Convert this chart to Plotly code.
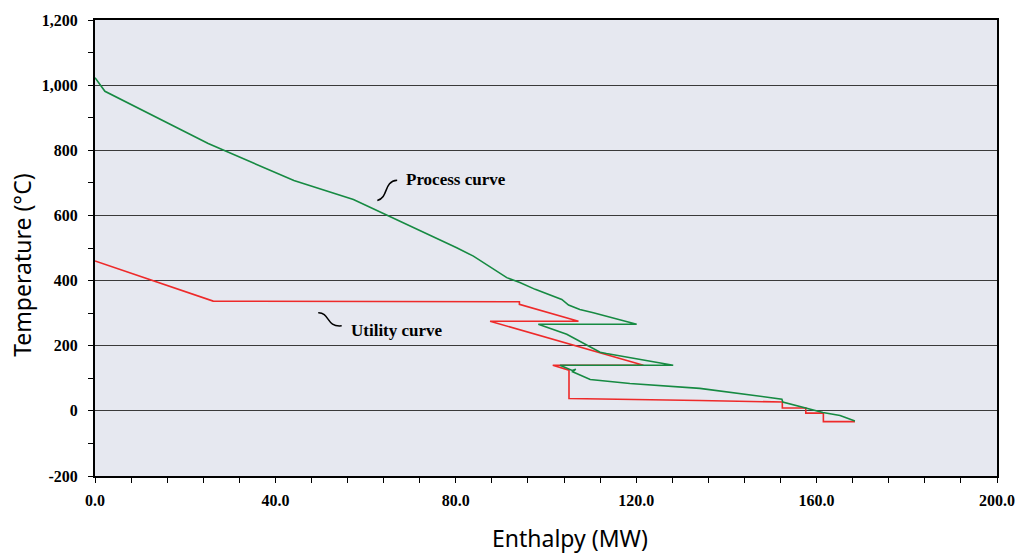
import plotly.graph_objects as go

# ---- data ----
process_h = [0.0, 2.2, 25.1, 44.1, 57.3, 75.0, 80.2, 83.9, 91.3, 94.2, 97.6, 103.5, 105.0, 107.5, 110.5,
             120.1, 98.3, 104.6, 107.5, 112.0, 113.4, 123.0, 128.2, 103.1, 105.8, 106.6, 105.9,
             109.8, 114.2, 118.6, 134.1, 139.2, 152.3, 152.5, 157.8, 161.4, 165.2, 168.5]
process_T = [1023, 981, 821, 707, 649, 535, 501, 475, 409, 394, 373, 342, 325, 311, 301,
             266, 266, 235, 214, 180, 176, 153, 140, 140, 124, 128, 120,
             96, 90, 84, 69, 60, 36, 27, 7, -5, -14, -31]

utility_h = [0.0, 26.2, 94.1, 94.1, 107.2, 87.6, 121.6, 101.5, 105.1, 105.1, 134.0, 152.4, 152.4,
             157.6, 157.6, 161.5, 161.5, 168.5]
utility_T = [460, 337, 335, 327, 275, 275, 140, 140, 125, 38, 32, 27, 9,
             9, -7, -7, -33, -33]

x_tickvals = [0, 40, 80, 120, 160, 200]
x_ticktext = ["0.0", "40.0", "80.0", "120.0", "160.0", "200.0"]
y_tickvals = [-200, 0, 200, 400, 600, 800, 1000, 1200]
y_ticktext = ["-200", "0", "200", "400", "600", "800", "1,000", "1,200"]

labels = ["Process curve", "Utility curve"]

# ---- styles ----
GREEN = "#168A42"
RED = "#EE2A2A"
BG = "#E6E8F0"
tick_font = dict(family="Liberation Serif", size=16, color="black", weight="bold")
label_font = dict(family="Liberation Serif", size=17, color="black", weight="bold")
title_font = dict(family="Noto Sans", size=23, color="black")

fig = go.Figure()
fig.add_trace(go.Scatter(x=utility_h, y=utility_T, mode="lines", name=labels[1],
                         line=dict(color=RED, width=1.6), hoverinfo="x+y"))
fig.add_trace(go.Scatter(x=process_h, y=process_T, mode="lines", name=labels[0],
                         line=dict(color=GREEN, width=1.6), hoverinfo="x+y"))

# label leaders (decorative squiggles)
process_leader = "M 62.6,646 C 65.2,656 63.9,705 67.0,708"
utility_leader = "M 49.5,301 C 52.1,302 51.2,256 54.7,261"
for p in (process_leader, utility_leader):
    fig.add_shape(type="path", path=p, xref="x", yref="y",
                  line=dict(color="black", width=1.5))

fig.add_annotation(x=68.6, y=711, xref="x", yref="y", text=labels[0], showarrow=False,
                   xanchor="left", yanchor="middle", font=label_font)
fig.add_annotation(x=56.3, y=247, xref="x", yref="y", text=labels[1], showarrow=False,
                   xanchor="left", yanchor="middle", font=label_font)

# axis titles
fig.add_annotation(x=-0.081, y=0.463, xref="paper", yref="paper", text="Temperature (°C)",
                   textangle=-90, showarrow=False, xanchor="center", yanchor="middle",
                   font=title_font)
fig.add_annotation(x=0.527, y=-0.136, xref="paper", yref="paper", text="Enthalpy (MW)",
                   showarrow=False, xanchor="center", yanchor="middle",
                   font=title_font)

fig.update_xaxes(range=[0, 200], tickmode="array", tickvals=x_tickvals, ticktext=x_ticktext,
                 tickfont=tick_font, ticks="outside", ticklen=5, tickwidth=1, tickcolor="black",
                 showline=True, linecolor="black", linewidth=2, mirror=True, automargin=False,
                 showgrid=False, zeroline=False, ticklabelstandoff=4,
                 minor=dict(tickmode="linear", tick0=0, dtick=8, ticks="outside", ticklen=5,
                            tickcolor="black", showgrid=False))
fig.update_yaxes(range=[-200, 1200], tickmode="array", tickvals=y_tickvals, ticktext=y_ticktext,
                 tickfont=tick_font, ticks="outside", ticklen=5, tickwidth=1, tickcolor="black",
                 showline=True, linecolor="black", linewidth=2, mirror=True, automargin=False,
                 showgrid=True, gridcolor="#3a3a3a", gridwidth=1.2, zeroline=False,
                 ticklabelstandoff=7,
                 minor=dict(tickmode="linear", tick0=-200, dtick=100, ticks="outside", ticklen=5,
                            tickcolor="black", showgrid=False))

fig.update_layout(width=1016, height=553, plot_bgcolor=BG, paper_bgcolor="white",
                  showlegend=False, margin=dict(l=95, r=19, t=20, b=77))

# remove the default page margin so the figure fills the window exactly
fig.write_html("out.html", config={"displayModeBar": False},
               post_script="document.body.style.margin='0';document.body.style.overflow='hidden';")
